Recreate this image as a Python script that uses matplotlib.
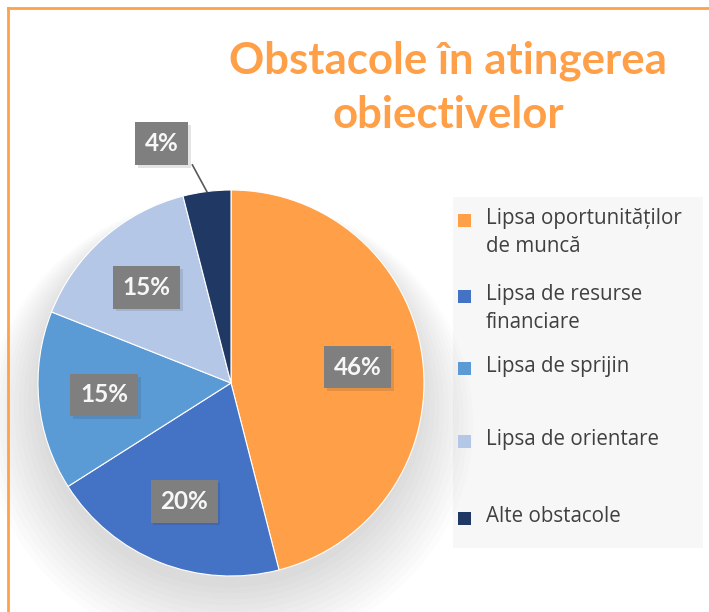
import numpy as np
import matplotlib.pyplot as plt
import matplotlib.patheffects as pe
from matplotlib.patches import Rectangle, Ellipse

plt.rcParams['font.family'] = ['Lato', 'DejaVu Sans']

labels = ["Lipsa oportunităților\nde muncă", "Lipsa de resurse\nfinanciare",
          "Lipsa de sprijin", "Lipsa de orientare", "Alte obstacole"]
values = [46, 20, 15, 15, 4]
colors = ["#FF9F47", "#4472C4", "#5B9BD5", "#B4C7E7", "#203864"]

W, H = 709, 612
fig = plt.figure(figsize=(W / 100, H / 100), dpi=100)

def px(x, y):
    return x / W, 1 - y / H

# orange frame (cut on right/bottom)
fig.add_artist(plt.Line2D([8 / W, 1], [1 - 8 / H] * 2, color="#FFA04A", lw=2))
fig.add_artist(plt.Line2D([8 / W] * 2, [0, 1 - 8 / H], color="#FFA04A", lw=2))

# title
fig.text(448 / W, 1 - 88 / H, "Obstacole în atingerea\nobiectivelor", ha="center", va="center",
         fontsize=31.5, fontweight="bold", color="#FF9F47", linespacing=1.42)

# pie
cx, cy, r = 231, 383, 193
L = 1.35
ax = fig.add_axes([(cx - r * L) / W, (H - cy - r * L) / H, 2 * L * r / W, 2 * L * r / H])
ax.axis("off")

# soft shadow
for i in range(12):
    ax.add_patch(Ellipse((-0.01, -0.07 - i * 0.013), 1.98 + i * 0.05, 1.98 + i * 0.035,
                         color="black", alpha=0.013, lw=0, zorder=0))

wedges, texts, autotexts = ax.pie(values, colors=colors, startangle=90, counterclock=False,
                                  radius=1, autopct="%d%%", pctdistance=0.66,
                                  wedgeprops=dict(linewidth=0.8, edgecolor="white"),
                                  textprops=dict(color="#F7F7F7", fontsize=17.5, fontweight="bold"))
ax.set_xlim(-L, L)
ax.set_ylim(-L, L)
for t in autotexts:
    t.set_bbox(dict(boxstyle="square,pad=0.4", fc="#7F7F7F", ec="none"))
    t.get_bbox_patch().set_path_effects([pe.SimplePatchShadow(offset=(2, -2), alpha=0.12), pe.Normal()])
    t.set_zorder(5)

# move the small slice label outside with a leader line
w = wedges[-1]
ang = np.deg2rad((w.theta1 + w.theta2) / 2)
edge = (np.cos(ang), np.sin(ang))
autotexts[-1].set_position((-0.36, 1.24))
ax.plot([edge[0], -0.2], [edge[1], 1.13], color="#595959", lw=1.2, zorder=4)

# legend
fig.add_artist(Rectangle(px(453, 548), 250 / W, 351 / H, color="#F7F7F7", lw=0, zorder=0))
ys = [220, 296, 368, 441, 518]
for lab, col, y in zip(labels, colors, ys):
    fig.add_artist(Rectangle(px(458, y + 7), 13 / W, 13 / H, color=col, lw=0))
    fig.text(486 / W, 1 - (y - 12) / H, lab, ha="left", va="top", fontsize=14.8,
             color="#404040", linespacing=1.45, family=["Open Sans", "DejaVu Sans"])

fig.savefig("out.png", dpi=100)
